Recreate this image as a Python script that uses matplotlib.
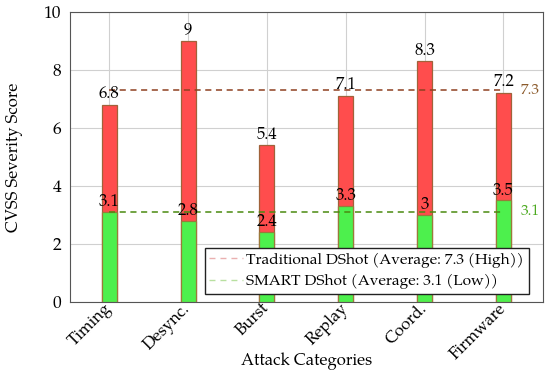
import numpy as np
import matplotlib
matplotlib.use("Agg")
from matplotlib import pyplot as plt
from matplotlib import font_manager as fm
from matplotlib.lines import Line2D

# data
categories = ["Timing", "Desync.", "Burst", "Replay", "Coord.", "Firmware"]
traditional = [6.8, 9.0, 5.4, 7.1, 8.3, 7.2]
smart = [3.1, 2.8, 2.4, 3.3, 3.0, 3.5]
trad_avg = 7.3
smart_avg = 3.1
trad_label = "Traditional DShot (Average: 7.3 (High))"
smart_label = "SMART DShot (Average: 3.1 (Low))"


def pickFont(names):
    have = {f.name for f in fm.fontManager.ttflist}
    for n in names:
        if n in have:
            return n
    return "DejaVu Serif"


plt.rcParams["font.family"] = pickFont(["P052", "TeX Gyre Pagella", "Palatino Linotype",
                                        "URW Palladio L", "Liberation Serif", "DejaVu Serif"])
plt.rcParams["font.size"] = 12

fig = plt.figure(figsize=(5.5, 3.75), dpi=100)
ax = fig.add_axes([0.127, 0.195, 0.86, 0.773])

x = np.arange(len(categories))
w = 0.19
ax.bar(x, traditional, w, color="#ff4d4d", edgecolor="#a0623a", linewidth=0.9, zorder=3)
ax.bar(x, smart, w, color="#4df04d", edgecolor="#9a7a3a", linewidth=0.9, zorder=4)

for xi, v in zip(x, traditional):
    ax.text(xi, v + 0.06, f"{v:g}", ha="center", va="bottom", zorder=6)
for xi, v in zip(x, smart):
    ax.text(xi, v + 0.03, f"{v:g}", ha="center", va="bottom", zorder=6)

ax.plot([x[0], x[-1]], [trad_avg, trad_avg], ls=(0, (4, 3)), color="#8e4020", lw=1.1, zorder=5)
ax.plot([x[0], x[-1]], [smart_avg, smart_avg], ls=(0, (4, 3)), color="#4a8a10", lw=1.1, zorder=5)
ax.text(x[-1] + 0.22, trad_avg, f"{trad_avg:g}", color="#8b5a2b", va="center", ha="left", fontsize=11)
ax.text(x[-1] + 0.22, smart_avg, f"{smart_avg:g}", color="#4caa20", va="center", ha="left", fontsize=11)

ax.set_xlim(-0.5, 5.5)
ax.set_ylim(0, 10)
ax.set_yticks([0, 2, 4, 6, 8, 10])
ax.set_xticks(x)
ax.set_xticklabels(categories, rotation=45, ha="right", va="center", rotation_mode="anchor")
ax.tick_params(length=0)
ax.tick_params(axis="y", pad=6, labelsize=12.5)
ax.tick_params(axis="x", pad=3)
ax.grid(True, color="#d0d0d0", lw=0.8, zorder=0)
ax.set_axisbelow(True)
for s in ax.spines.values():
    s.set_color("#555555")
ax.set_xlabel("Attack Categories", va="center")
ax.set_ylabel("CVSS Severity Score", va="center")
ax.xaxis.set_label_coords(0.5, -0.205)
ax.yaxis.set_label_coords(-0.117, 0.5)

handles = [Line2D([], [], ls=(0, (4.3, 3.6)), color="#eab0b0", lw=1.0),
           Line2D([], [], ls=(0, (4.3, 3.6)), color="#b8e0a0", lw=1.0)]
ax.legend(handles, [trad_label, smart_label], loc="lower right",
          bbox_to_anchor=(0.970, 0.028), borderaxespad=0, fancybox=False,
          edgecolor="#222222", framealpha=1, handlelength=2.15,
          borderpad=0.3, labelspacing=0.4, fontsize=11.1, handletextpad=0.25)

fig.savefig("out.png", dpi=100)
